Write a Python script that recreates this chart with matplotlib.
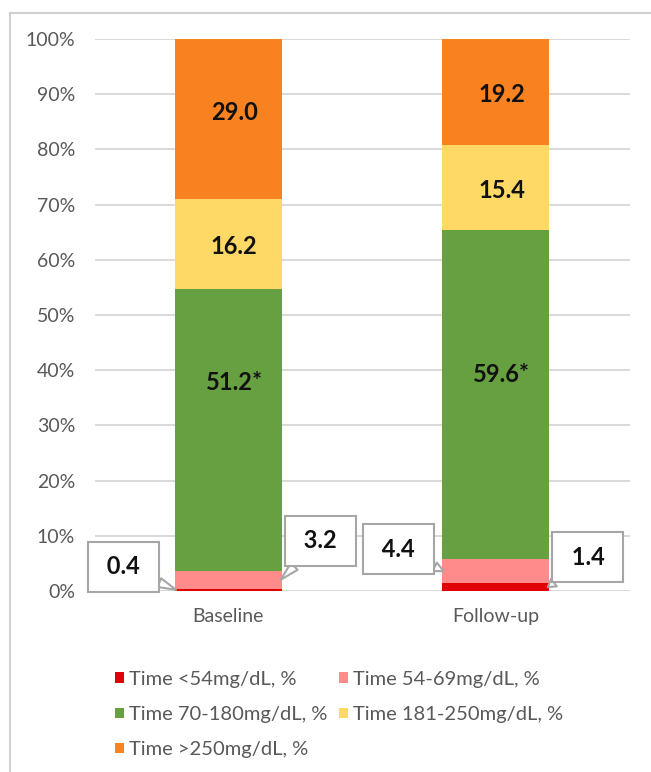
import matplotlib
matplotlib.use("Agg")
import matplotlib.pyplot as plt
from matplotlib.patches import Patch
from matplotlib.lines import Line2D
import numpy as np

plt.rcParams['font.family'] = ['Lato', 'DejaVu Sans']

# ---- data -------------------------------------------------------------
groups = ["Baseline", "Follow-up"]
series = ["Time <54mg/dL, %", "Time 54-69mg/dL, %", "Time 70-180mg/dL, %",
          "Time 181-250mg/dL, %", "Time >250mg/dL, %"]
below_54 = [0.4, 1.4]
range_54_69 = [3.2, 4.4]
range_70_180 = [51.2, 59.6]
range_181_250 = [16.2, 15.4]
above_250 = [29.0, 19.2]
label_suffix = ["", "", "*", "", ""]
yticks = [0, 10, 20, 30, 40, 50, 60, 70, 80, 90, 100]

series_values = [below_54, range_54_69, range_70_180, range_181_250, above_250]

# ---- style ------------------------------------------------------------
colors = ["#E30000", "#FF8B8B", "#67A040", "#FFD966", "#F7821F"]
grey_text = "#595959"
PX = 0.72  # points per pixel at dpi 100

# vertical nudges (pixels, up is positive) for in-bar labels, per series/group
inbar_nudge = {2: [47, 19.5], 3: [-3, -3.5], 4: [7, -3]}
# callouts for thin segments: (series, group) -> (edge side, dx px, dy px)
callouts = {
    (0, 0): (-1, -53, 23),
    (1, 0): (1, 40, 39),
    (1, 1): (-1, -45, 22),
    (0, 1): (1, 40, 30),
}

fig = plt.figure(figsize=(6.51, 7.72), dpi=100)
ax = fig.add_axes([94.5 / 651, 181 / 772, 535 / 651, 552 / 772])

x = np.arange(len(groups))
width = 0.4
bottoms = np.zeros(len(groups))
handles = []
for si, (vals, color, name) in enumerate(zip(series_values, colors, series)):
    vals = np.asarray(vals, dtype=float)
    ax.bar(x, vals, width, bottom=bottoms, color=color, zorder=2)
    handles.append(Patch(facecolor=color, label=name))
    for gi in range(len(groups)):
        mid = bottoms[gi] + vals[gi] / 2
        text = f"{vals[gi]:.1f}{label_suffix[si]}"
        if (si, gi) in callouts:
            side, dx, dy = callouts[(si, gi)]
            ax.annotate(f" {text} ", xy=(x[gi] + side * (width / 2 - 0.005), mid),
                        xytext=(dx * PX, dy * PX), textcoords="offset points",
                        ha="center", va="center", fontsize=17, fontweight="bold",
                        color="#111111", annotation_clip=False, zorder=6,
                        bbox=dict(boxstyle="square,pad=0.56", fc="white",
                                  ec="#A6A6A6", lw=1.5),
                        arrowprops=dict(arrowstyle="wedge,tail_width=0.4,shrink_factor=0.5",
                                        fc="white", ec="#A6A6A6", lw=1.5,
                                        shrinkA=0, shrinkB=0))
        else:
            nudge = inbar_nudge.get(si, [0, 0])[gi]
            ax.annotate(text, xy=(x[gi], mid), xytext=(6 * PX, nudge * PX),
                        textcoords="offset points", ha="center", va="center",
                        fontsize=17, fontweight="bold", color="#111111", zorder=5)
    bottoms += vals

ax.set_xlim(-0.5, 1.5)
ax.set_ylim(0, 100)
ax.set_yticks(yticks)
ax.set_yticklabels([f"{t}%" for t in yticks])
ax.set_xticks(x)
ax.set_xticklabels(groups)
ax.tick_params(axis="y", length=0, pad=14, labelsize=14, labelcolor=grey_text)
ax.tick_params(axis="x", length=0, pad=12, labelsize=14, labelcolor=grey_text)
ax.yaxis.grid(True, color="#D9D9D9", lw=1.4, zorder=0)
ax.set_axisbelow(True)
for sp in ax.spines.values():
    sp.set_visible(False)

# legend laid out row by row in two columns
order = [0, 2, 4, 1, 3]
fig.legend([handles[i] for i in order], [series[i] for i in order],
           loc="upper left", bbox_to_anchor=(115 / 651, 1 - 671 / 772),
           ncol=2, frameon=False, fontsize=14.5, labelcolor=grey_text,
           handlelength=0.45, handleheight=0.45, handletextpad=0.25,
           columnspacing=0.55, labelspacing=0.9, borderpad=0, borderaxespad=0)

# chart-area frame (top and left edges)
fig.add_artist(Line2D([10 / 651, 1], [1 - 13 / 772, 1 - 13 / 772],
                      transform=fig.transFigure, color="#D0D0D0", lw=1.5))
fig.add_artist(Line2D([10 / 651, 10 / 651], [0, 1 - 13 / 772],
                      transform=fig.transFigure, color="#D0D0D0", lw=1.5))

fig.savefig("out.png", dpi=100)
